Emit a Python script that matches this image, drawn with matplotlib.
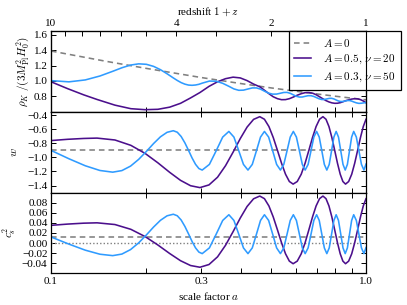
import matplotlib
matplotlib.use("Agg")
import matplotlib.pyplot as plt
from matplotlib.ticker import FixedLocator, NullFormatter, FixedFormatter

plt.rcParams['font.family'] = ['Liberation Serif', 'DejaVu Serif']
plt.rcParams['mathtext.fontset'] = 'cm'
plt.rcParams['font.size'] = 8
plt.rcParams['axes.unicode_minus'] = True

# ---------------- data ----------------
# dashed reference model A=0
a_ref = [0.1, 0.15, 0.2, 0.3, 0.4, 0.5, 0.6, 0.7, 0.8, 0.9, 1.0]
rho_ref = [1.39, 1.255, 1.165, 1.045, 0.967, 0.91, 0.867, 0.831, 0.802, 0.777, 0.755]
w_ref = -0.9
cs2_ref = 0.012

# A=0.5, nu=20 (purple)
a_p = [0.100, 0.113, 0.127, 0.140, 0.1596, 0.1793, 0.1989, 0.2185, 0.2381, 0.2578, 0.2774,
       0.297, 0.3174, 0.3378, 0.3581, 0.3785, 0.3989, 0.4193, 0.4396, 0.460, 0.4759, 0.4918,
       0.5076, 0.5235, 0.5394, 0.5553, 0.5711, 0.587, 0.6049, 0.6228, 0.6406, 0.6585, 0.6764,
       0.6943, 0.7121, 0.730, 0.7464, 0.7628, 0.7791, 0.7955, 0.8119, 0.8283, 0.8446, 0.861,
       0.8809, 0.9008, 0.9206, 0.9405, 0.9604, 0.9803, 1.0]
w_p = [-0.76, -0.742, -0.73, -0.725,
       -0.7519, -0.8282, -0.9426, -1.0775, -1.2124, -1.3268, -1.4031, -1.43,
       -1.3915, -1.2821, -1.1182, -0.925, -0.7318, -0.5679, -0.4585, -0.42,
       -0.4566, -0.5605, -0.7164, -0.90, -1.0836, -1.2395, -1.3434, -1.38,
       -1.3434, -1.2395, -1.0836, -0.90, -0.7164, -0.5605, -0.4566, -0.42,
       -0.4566, -0.5605, -0.7164, -0.90, -1.0836, -1.2395, -1.3434, -1.38,
       -1.3434, -1.2395, -1.0836, -0.90, -0.7164, -0.5605, -0.457]
cs2_p = [0.035, 0.0375, 0.0393, 0.040,
         0.0366, 0.0271, 0.0128, -0.004, -0.0208, -0.0351, -0.0446, -0.048,
         -0.0426, -0.0274, -0.0045, 0.0225, 0.0495, 0.0724, 0.0876, 0.093,
         0.0879, 0.0734, 0.0516, 0.026, 0.0004, -0.0214, -0.0359, -0.041,
         -0.0359, -0.0214, 0.0004, 0.026, 0.0516, 0.0734, 0.0879, 0.093,
         0.0879, 0.0734, 0.0516, 0.026, 0.0004, -0.0214, -0.0359, -0.041,
         -0.0359, -0.0214, 0.0004, 0.026, 0.0516, 0.0734, 0.0878]
rho_p = [0.99, 0.90, 0.82, 0.76,
         0.686, 0.64, 0.627, 0.632, 0.66, 0.71, 0.78, 0.85,
         0.93, 0.99, 1.03, 1.05, 1.04, 1.005, 0.96, 0.925,
         0.88, 0.835, 0.795, 0.77, 0.757, 0.758, 0.77, 0.79,
         0.815, 0.835, 0.848, 0.85, 0.842, 0.822, 0.795, 0.768,
         0.745, 0.728, 0.716, 0.71, 0.711, 0.718, 0.73, 0.743,
         0.755, 0.765, 0.77, 0.768, 0.758, 0.74, 0.718]

# A=0.3, nu=50 (blue)
a_b = [0.100, 0.114, 0.1285, 0.143, 0.157, 0.1679, 0.1789, 0.1898, 0.2008, 0.2117, 0.2226,
       0.2336, 0.2445, 0.2517, 0.2589, 0.2661, 0.2733, 0.2804, 0.2876, 0.2948, 0.302,
       0.3183, 0.3345, 0.3508, 0.367, 0.3808, 0.3945, 0.4083, 0.422, 0.4355, 0.449, 0.4625,
       0.476, 0.4908, 0.5055, 0.5203, 0.535, 0.5483, 0.5615, 0.5748, 0.588, 0.6013, 0.6145,
       0.6278, 0.641, 0.655, 0.669, 0.683, 0.697, 0.7105, 0.724, 0.7375, 0.751, 0.7643,
       0.7775, 0.7908, 0.804, 0.8178, 0.8315, 0.8453, 0.859, 0.8728, 0.8865, 0.9003, 0.914,
       0.9318, 0.9495, 0.9673, 0.985, 1.0]
w_b = [-0.90, -1.019, -1.119, -1.186, -1.21, -1.1875, -1.1236, -1.0279, -0.915, -0.8021,
       -0.7064, -0.6425, -0.62, -0.6413, -0.702, -0.7929, -0.90, -1.0071, -1.098, -1.1587, -1.18,
       -1.0995, -0.905, -0.7105, -0.63, -0.7105, -0.905, -1.0995, -1.18,
       -1.0995, -0.905, -0.7105, -0.63, -0.7105, -0.905, -1.0995, -1.18,
       -1.0995, -0.905, -0.7105, -0.63, -0.7105, -0.905, -1.0995, -1.18,
       -1.0995, -0.905, -0.7105, -0.63, -0.7105, -0.905, -1.0995, -1.18,
       -1.0995, -0.905, -0.7105, -0.63, -0.7105, -0.905, -1.0995, -1.18,
       -1.0995, -0.905, -0.7105, -0.63, -0.7105, -0.905, -1.0995, -1.18,
       -1.095]
cs2_b = [0.012, -0.0022, -0.0142, -0.0222, -0.025, -0.0219, -0.013, 0.0003, 0.016, 0.0317,
         0.045, 0.0539, 0.057, 0.054, 0.0456, 0.0329, 0.018, 0.0031, -0.0096, -0.018, -0.021,
         -0.0097, 0.0175, 0.0447, 0.056, 0.0447, 0.0175, -0.0097, -0.021,
         -0.0097, 0.0175, 0.0447, 0.056, 0.0447, 0.0175, -0.0097, -0.021,
         -0.0097, 0.0175, 0.0447, 0.056, 0.0447, 0.0175, -0.0097, -0.021,
         -0.0097, 0.0175, 0.0447, 0.056, 0.0447, 0.0175, -0.0097, -0.021,
         -0.0097, 0.0175, 0.0447, 0.056, 0.0447, 0.0175, -0.0097, -0.021,
         -0.0097, 0.0175, 0.0447, 0.056, 0.0447, 0.0175, -0.0097, -0.021,
         -0.009]
rho_b = [1.005, 0.989, 1.014, 1.065, 1.126, 1.172, 1.207, 1.223, 1.217, 1.190, 1.147,
         1.094, 1.040, 1.007, 0.979, 0.959, 0.947, 0.944, 0.948, 0.957, 0.972,
         0.999, 0.997, 0.970, 0.931, 0.897, 0.879, 0.881, 0.896, 0.910, 0.910, 0.894,
         0.868, 0.842, 0.829, 0.830, 0.841, 0.851, 0.852, 0.840, 0.820, 0.801, 0.791,
         0.792, 0.801, 0.809, 0.809, 0.799, 0.783, 0.768, 0.759, 0.760, 0.767, 0.774,
         0.775, 0.767, 0.753, 0.740, 0.733, 0.734, 0.740, 0.746, 0.746, 0.739, 0.728,
         0.716, 0.709, 0.711, 0.716, 0.720]

x_major = [0.1, 0.3, 1.0]
x_major_labels = ['0.1', '0.3', '1.0']
x_minor = [0.2, 0.4, 0.5, 0.6, 0.7, 0.8, 0.9]
z_major = [10, 4, 2, 1]
z_major_labels = ['10', '4', '2', '1']
z_minor = [9, 8, 7, 6, 5, 3]
rho_ticks = [0.8, 1.0, 1.2, 1.4, 1.6]
w_ticks = [-1.4, -1.2, -1.0, -0.8, -0.6, -0.4]
cs2_ticks = [-0.04, -0.02, 0.00, 0.02, 0.04, 0.06, 0.08]

c_ref = '#808080'
c_p = '#4b0f8c'
c_b = '#2f9bff'
lw = 1.15

fig = plt.figure(figsize=(4.07, 3.05), dpi=100)
L, W = 51 / 407, 315 / 407
top_px, bot_px = 31, 273.3
H = (bot_px - top_px) / 3 / 305
B = 1 - bot_px / 305
ax1 = fig.add_axes([L, B + 2 * H, W, H])
ax2 = fig.add_axes([L, B + H, W, H])
ax3 = fig.add_axes([L, B, W, H])

dash = (0, (3.5, 2.5))
ax1.plot(a_ref, rho_ref, color=c_ref, lw=lw, ls=dash, label=r'$A=0$')
ax1.plot(a_p, rho_p, color=c_p, lw=lw, label=r'$A=0.5,\,\nu=20$')
ax1.plot(a_b, rho_b, color=c_b, lw=lw, label=r'$A=0.3,\,\nu=50$')

ax2.axhline(w_ref, color=c_ref, lw=lw, ls=dash)
ax2.plot(a_p, w_p, color=c_p, lw=lw)
ax2.plot(a_b, w_b, color=c_b, lw=lw)

ax3.axhline(0.0, color=c_ref, lw=1.0, ls=(0, (1, 1.5)))
ax3.axhline(cs2_ref, color=c_ref, lw=lw, ls=dash)
ax3.plot(a_p, cs2_p, color=c_p, lw=lw)
ax3.plot(a_b, cs2_b, color=c_b, lw=lw)

ax1.set_ylim(0.6, 1.65)
ax2.set_ylim(-1.5, -0.35)
ax3.set_ylim(-0.06, 0.10)
ax1.set_yticks(rho_ticks)
ax1.set_yticklabels(['%.1f' % v for v in rho_ticks])
ax2.set_yticks(w_ticks)
ax2.set_yticklabels(['\u2212%.1f' % abs(v) if v < 0 else '%.1f' % v for v in w_ticks])
ax3.set_yticks(cs2_ticks)
ax3.set_yticklabels(['\u2212%.2f' % abs(v) if v < 0 else '%.2f' % v for v in cs2_ticks])

for ax in (ax1, ax2, ax3):
    ax.set_xscale('log')
    ax.set_xlim(0.1, 1.0)
    ax.xaxis.set_major_locator(FixedLocator(x_major))
    ax.xaxis.set_minor_locator(FixedLocator(x_minor))
    ax.xaxis.set_minor_formatter(NullFormatter())
    ax.tick_params(which='both', direction='in', top=True, right=True, length=3.5, width=0.7,
                   pad=2.5)
    for s in ax.spines.values():
        s.set_linewidth(0.9)
for ax in (ax1, ax2):
    ax.xaxis.set_major_formatter(NullFormatter())
ax3.xaxis.set_major_formatter(FixedFormatter(x_major_labels))
ax1.tick_params(which='both', top=False)

axz = ax1.twiny()
axz.set_xscale('log')
axz.set_xlim(10, 1)
axz.xaxis.set_major_locator(FixedLocator(z_major))
axz.xaxis.set_major_formatter(FixedFormatter(z_major_labels))
axz.xaxis.set_minor_locator(FixedLocator(z_minor))
axz.xaxis.set_minor_formatter(NullFormatter())
axz.tick_params(which='both', direction='in', length=3.5, width=0.7, pad=2)
axz.set_xlabel(r'redshift $1+z$', labelpad=3)

ax3.set_xlabel(r'scale factor $a$', labelpad=3)
ax1.set_ylabel(r'$\rho_K\ /(3M_{\rm Pl}^2H_0^2)$', labelpad=2)
ax2.set_ylabel(r'$w$', labelpad=6)
ax3.set_ylabel(r'$c_s^2$', labelpad=3)

leg = ax1.legend(loc='upper right', bbox_to_anchor=(1.111, 1.0), borderaxespad=0,
                 fancybox=False, framealpha=1, edgecolor='black', handlelength=1.5,
                 handletextpad=1.1, borderpad=0.5, labelspacing=0.4, fontsize=8)
leg.get_frame().set_linewidth(0.9)
leg.set_zorder(10)

fig.savefig('out.png', dpi=100)
